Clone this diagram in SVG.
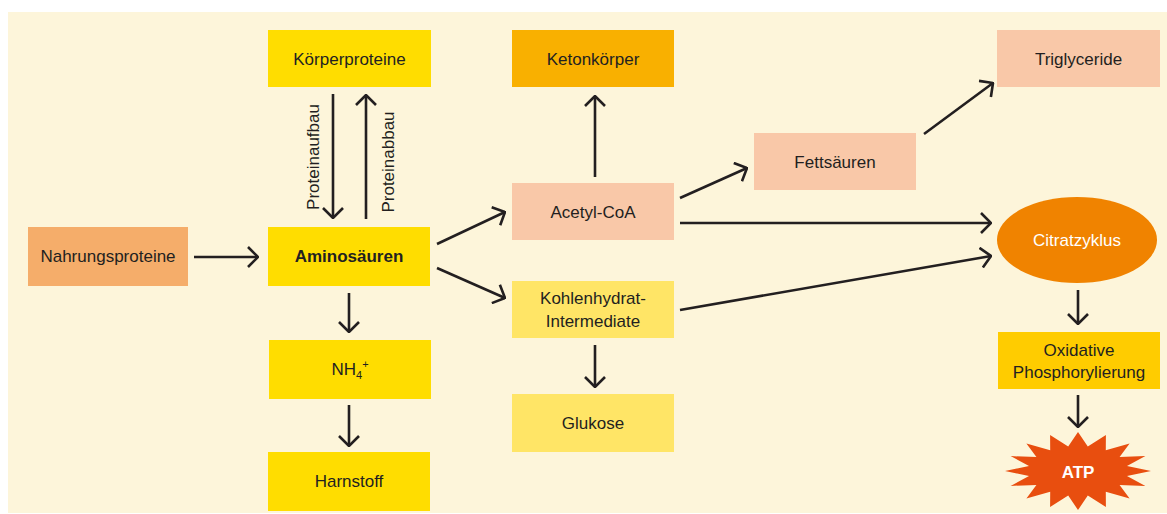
<svg xmlns="http://www.w3.org/2000/svg" width="1167" height="514" viewBox="0 0 1167 514">
<defs>
<marker id="ah" viewBox="0 0 12 22" refX="11" refY="11" markerWidth="12" markerHeight="22" markerUnits="userSpaceOnUse" orient="auto">
<path d="M1,1 L11,11 L1,21" fill="none" stroke="#231f20" stroke-width="2.6" stroke-linecap="butt"/>
</marker>
<style>
text{font-family:"Liberation Sans Narrow","Liberation Sans","Noto Sans",sans-serif;font-size:17px;fill:#231f20;text-anchor:middle}
.w{fill:#ffffff}
.b{font-weight:bold}
.yel{fill:#ffdd00}
.pk{fill:#f9c8a8}
.ly{fill:#ffe566}
#connectors line,#connectors path{stroke:#231f20;stroke-width:2.6;fill:none;marker-end:url(#ah)}
</style>
</defs>
<rect x="8" y="12" width="1159" height="501" fill="#fdf5da"/>
<g id="connectors">
<line x1="194" y1="257" x2="258" y2="257"/>
<line x1="333" y1="94" x2="333" y2="218"/>
<line x1="366" y1="219" x2="366" y2="95"/>
<line x1="349" y1="293" x2="349" y2="332"/>
<line x1="349" y1="405" x2="349" y2="446"/>
<line x1="437" y1="244" x2="505" y2="212"/>
<line x1="437" y1="268" x2="505" y2="298"/>
<line x1="595" y1="177" x2="595" y2="96"/>
<line x1="595" y1="345" x2="595" y2="387"/>
<line x1="680" y1="198" x2="747" y2="168"/>
<line x1="924" y1="134" x2="993" y2="83"/>
<line x1="680" y1="223" x2="991" y2="223"/>
<line x1="680" y1="310" x2="991" y2="256"/>
<line x1="1078" y1="290" x2="1078" y2="324"/>
<line x1="1078" y1="395" x2="1078" y2="427"/>
</g>
<g id="labels">
<text transform="translate(319,157) rotate(-90)">Proteinaufbau</text>
<text transform="translate(394,162) rotate(-90)">Proteinabbau</text>
</g>
<g id="koerperproteine"><rect class="yel" x="268" y="30" width="163" height="57"/><text x="349.5" y="64.5">Körperproteine</text></g>
<g id="nahrungsproteine"><rect fill="#f5ad6a" x="28" y="227" width="160" height="59"/><text x="108" y="262">Nahrungsproteine</text></g>
<g id="aminosaeuren"><rect class="yel" x="268" y="227" width="162" height="59"/><text class="b" x="349" y="262">Aminosäuren</text></g>
<g id="nh4"><rect class="yel" x="269" y="340" width="162" height="59"/><text x="350" y="375">NH<tspan font-size="11" dy="4">4</tspan><tspan font-size="11" dy="-11">+</tspan></text></g>
<g id="harnstoff"><rect class="yel" x="268" y="452" width="162" height="59"/><text x="349" y="487">Harnstoff</text></g>
<g id="ketonkoerper"><rect fill="#f9b000" x="512" y="30" width="162" height="57"/><text x="593" y="64.5">Ketonkörper</text></g>
<g id="acetylcoa"><rect class="pk" x="512" y="183" width="162" height="57"/><text x="593" y="217.5">Acetyl-CoA</text></g>
<g id="kohlenhydrat"><rect class="ly" x="512" y="281" width="162" height="57"/><text x="593" y="304">Kohlenhydrat-</text><text x="593" y="327">Intermediate</text></g>
<g id="glukose"><rect class="ly" x="512" y="394" width="162" height="58"/><text x="593" y="429">Glukose</text></g>
<g id="fettsaeuren"><rect class="pk" x="754" y="133" width="162" height="57"/><text x="835" y="167.5">Fettsäuren</text></g>
<g id="triglyceride"><rect class="pk" x="997" y="30" width="163" height="57"/><text x="1078.5" y="64.5">Triglyceride</text></g>
<g id="citratzyklus"><ellipse fill="#f08300" cx="1077" cy="240" rx="80" ry="43"/><text class="w" x="1077" y="246">Citratzyklus</text></g>
<g id="oxphos"><rect fill="#ffcc00" x="998" y="332" width="162" height="57"/><text x="1079" y="356">Oxidative</text><text x="1079" y="378">Phosphorylierung</text></g>
<g id="atp"><polygon fill="#e84e0f" points="1078,432 1087.8,446.5 1105.9,435 1105.8,450.2 1129.6,443.4 1119.6,457.1 1145.4,456.1 1127,466.1 1151,471 1127,475.9 1145.4,485.9 1119.6,484.9 1129.6,498.6 1105.8,491.8 1105.9,507 1087.8,495.5 1078,510 1068.2,495.5 1050.1,507 1050.2,491.8 1026.4,498.6 1036.4,484.9 1010.6,485.9 1029,475.9 1005,471 1029,466.1 1010.6,456.1 1036.4,457.1 1026.4,443.4 1050.2,450.2 1050.1,435 1068.2,446.5"/><text class="w b" x="1078" y="478">ATP</text></g>
</svg>
